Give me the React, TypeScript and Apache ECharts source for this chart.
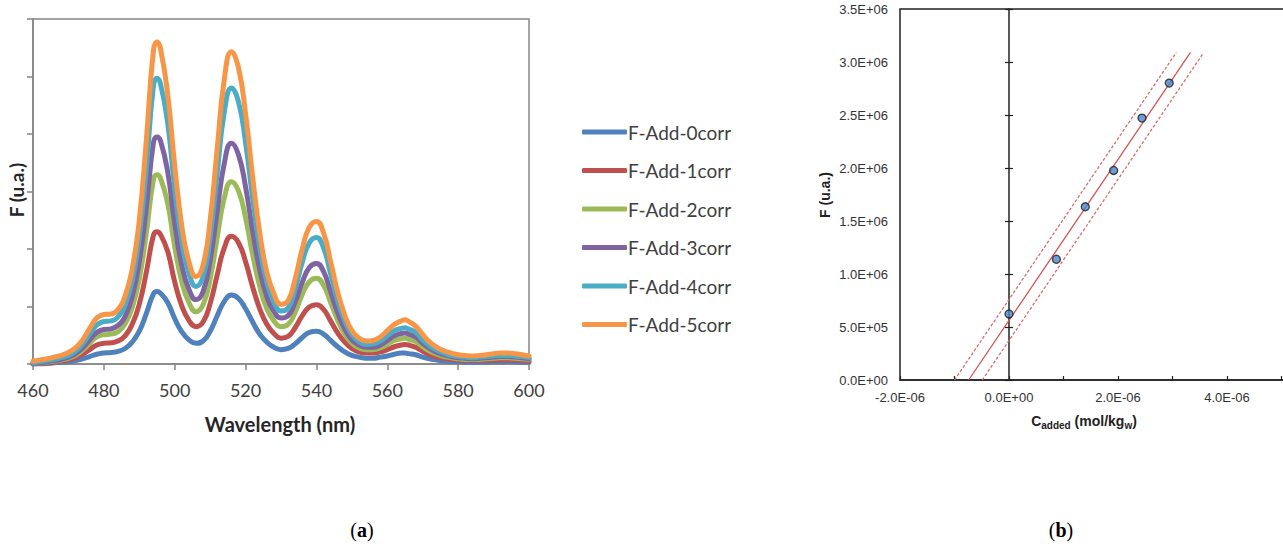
import React, { useEffect, useRef } from "react";
import * as echarts from "echarts";

// ---------- Panel (a): emission spectra ----------
const wavelengths = [460, 462, 464, 466, 468, 470, 472, 474, 476, 478, 480, 482, 484, 486, 488, 490, 492, 494, 495, 496, 498, 500, 502, 504, 506, 508, 510, 512, 514, 516, 518, 520, 522, 524, 526, 528, 530, 532, 534, 536, 538, 540, 542, 544, 546, 548, 550, 552, 554, 556, 558, 560, 562, 564, 565, 566, 568, 570, 572, 574, 576, 578, 580, 582, 584, 586, 588, 590, 592, 594, 596, 598, 600];

const fAdd0 = [0.00, 0.00, 0.01, 0.02, 0.03, 0.04, 0.06, 0.09, 0.13, 0.17, 0.19, 0.20, 0.22, 0.27, 0.38, 0.57, 0.88, 1.22, 1.26, 1.23, 1.07, 0.79, 0.56, 0.42, 0.36, 0.40, 0.57, 0.84, 1.09, 1.20, 1.14, 0.96, 0.73, 0.52, 0.38, 0.29, 0.25, 0.27, 0.35, 0.46, 0.55, 0.57, 0.52, 0.41, 0.30, 0.21, 0.15, 0.12, 0.10, 0.10, 0.12, 0.14, 0.17, 0.19, 0.19, 0.18, 0.16, 0.12, 0.09, 0.07, 0.05, 0.04, 0.04, 0.03, 0.03, 0.03, 0.03, 0.04, 0.04, 0.04, 0.04, 0.03, 0.03];
const fAdd1 = [0.00, 0.01, 0.02, 0.03, 0.05, 0.07, 0.11, 0.17, 0.25, 0.33, 0.36, 0.37, 0.40, 0.49, 0.69, 1.04, 1.60, 2.24, 2.30, 2.25, 1.96, 1.43, 1.01, 0.76, 0.65, 0.73, 1.05, 1.55, 2.02, 2.22, 2.11, 1.78, 1.34, 0.96, 0.69, 0.53, 0.45, 0.48, 0.63, 0.84, 0.99, 1.03, 0.95, 0.75, 0.54, 0.38, 0.27, 0.21, 0.19, 0.19, 0.21, 0.25, 0.30, 0.33, 0.34, 0.33, 0.29, 0.22, 0.16, 0.12, 0.10, 0.08, 0.07, 0.06, 0.06, 0.06, 0.06, 0.07, 0.07, 0.07, 0.07, 0.06, 0.05];
const fAdd2 = [0.01, 0.02, 0.03, 0.05, 0.07, 0.10, 0.15, 0.24, 0.36, 0.47, 0.51, 0.52, 0.56, 0.70, 0.98, 1.48, 2.28, 3.21, 3.29, 3.23, 2.80, 2.04, 1.43, 1.07, 0.91, 1.03, 1.48, 2.20, 2.89, 3.17, 3.01, 2.54, 1.90, 1.35, 0.96, 0.75, 0.65, 0.69, 0.90, 1.21, 1.43, 1.49, 1.37, 1.07, 0.76, 0.52, 0.36, 0.28, 0.25, 0.25, 0.28, 0.34, 0.41, 0.44, 0.45, 0.43, 0.39, 0.30, 0.22, 0.17, 0.13, 0.11, 0.09, 0.08, 0.08, 0.08, 0.09, 0.10, 0.11, 0.11, 0.10, 0.09, 0.08];
const fAdd3 = [0.01, 0.02, 0.04, 0.06, 0.08, 0.12, 0.18, 0.28, 0.42, 0.55, 0.60, 0.61, 0.67, 0.83, 1.17, 1.78, 2.73, 3.85, 3.95, 3.88, 3.35, 2.44, 1.72, 1.30, 1.12, 1.26, 1.80, 2.66, 3.49, 3.84, 3.64, 3.08, 2.31, 1.64, 1.17, 0.91, 0.80, 0.84, 1.08, 1.42, 1.68, 1.75, 1.61, 1.26, 0.89, 0.61, 0.42, 0.33, 0.29, 0.29, 0.33, 0.41, 0.49, 0.53, 0.54, 0.52, 0.47, 0.36, 0.27, 0.20, 0.16, 0.13, 0.11, 0.10, 0.09, 0.10, 0.11, 0.12, 0.13, 0.13, 0.12, 0.11, 0.09];
const fAdd4 = [0.02, 0.04, 0.06, 0.08, 0.11, 0.15, 0.22, 0.35, 0.52, 0.68, 0.74, 0.75, 0.82, 1.03, 1.45, 2.21, 3.41, 4.84, 4.97, 4.87, 4.20, 3.05, 2.13, 1.58, 1.35, 1.52, 2.21, 3.32, 4.38, 4.80, 4.56, 3.85, 2.88, 2.02, 1.42, 1.08, 0.92, 0.97, 1.31, 1.77, 2.11, 2.20, 2.02, 1.57, 1.10, 0.75, 0.51, 0.39, 0.34, 0.35, 0.40, 0.49, 0.58, 0.62, 0.63, 0.61, 0.55, 0.42, 0.31, 0.24, 0.19, 0.15, 0.13, 0.12, 0.11, 0.12, 0.13, 0.14, 0.15, 0.15, 0.14, 0.13, 0.11];
const fAdd5 = [0.05, 0.07, 0.09, 0.12, 0.15, 0.20, 0.28, 0.42, 0.62, 0.80, 0.86, 0.87, 0.95, 1.18, 1.65, 2.50, 3.90, 5.45, 5.60, 5.48, 4.70, 3.45, 2.40, 1.78, 1.52, 1.72, 2.50, 3.75, 4.95, 5.43, 5.15, 4.35, 3.25, 2.28, 1.60, 1.22, 1.04, 1.10, 1.48, 2.00, 2.38, 2.48, 2.28, 1.78, 1.25, 0.85, 0.58, 0.45, 0.40, 0.41, 0.47, 0.58, 0.69, 0.75, 0.77, 0.74, 0.66, 0.51, 0.38, 0.29, 0.23, 0.19, 0.16, 0.15, 0.14, 0.15, 0.16, 0.18, 0.19, 0.19, 0.18, 0.16, 0.14];

const spectraNames = ["F-Add-0corr", "F-Add-1corr", "F-Add-2corr", "F-Add-3corr", "F-Add-4corr", "F-Add-5corr"];
const spectraValues = [fAdd0, fAdd1, fAdd2, fAdd3, fAdd4, fAdd5];
const spectraColors = ["#4F81BD", "#C0504D", "#9BBB59", "#8064A2", "#4BACC6", "#F79646"];

// ---------- Panel (b): standard addition ----------
const cAdded = [0, 0.87e-6, 1.4e-6, 1.92e-6, 2.44e-6, 2.94e-6];
const fMeasured = [6.23e5, 1.139e6, 1.634e6, 1.977e6, 2.471e6, 2.801e6];
const fitLine = [[-0.74e-6, 0], [3.33e-6, 3.09e6]];
const upperBand = [[-1.0e-6, 0], [3.07e-6, 3.09e6]];
const lowerBand = [[-0.49e-6, 0], [3.56e-6, 3.08e6]];

const fmtExp = (v: number) => {
  const s = Number(v).toExponential(1);
  const [m, e] = s.split("e");
  const sign = e[0] === "-" ? "-" : "+";
  const d = e.replace(/[+-]/, "").padStart(2, "0");
  return m + "E" + sign + d;
};

export default function App() {
  const ref = useRef<HTMLDivElement>(null);
  useEffect(() => {
    document.body.style.margin = "0";
    const chart = echarts.init(ref.current!, null, { renderer: "svg" });
    const axisGrey = "#868686";
    const sansA = "Lato";
    const sansB = "Liberation Sans";

    const spectraSeries = spectraNames.map((name, i) => ({
      name,
      type: "line",
      xAxisIndex: 0,
      yAxisIndex: 0,
      data: wavelengths.map((w, j) => [w, spectraValues[i][j]]),
      showSymbol: false,
      smooth: 0.5,
      lineStyle: { width: 5, color: spectraColors[i], cap: "round", join: "round" },
      itemStyle: { color: spectraColors[i] },
      z: 2 + i,
    }));

    const option: any = {
      animation: false,
      textStyle: { fontFamily: sansA },
      grid: [
        { left: 33, top: 19, width: 496, height: 345, show: true, borderColor: axisGrey, borderWidth: 1.5, backgroundColor: "transparent", outerBoundsMode: "none", containLabel: false },
        { left: 900, top: 9, width: 436, height: 371, show: true, borderColor: "#222", borderWidth: 1.5, backgroundColor: "transparent", outerBoundsMode: "none", containLabel: false },
      ],
      xAxis: [
        {
          type: "value", gridIndex: 0, min: 460, max: 600, interval: 20,
          axisLine: { show: true, onZero: false, lineStyle: { color: axisGrey, width: 1.5 } },
          axisTick: { show: true, length: 6, lineStyle: { color: axisGrey, width: 1.5 } },
          axisLabel: { color: "#404040", fontSize: 18, fontFamily: sansA, margin: 17 },
          splitLine: { show: false },
        },
        {
          // ticks every 1E-06 along the bottom edge
          type: "value", gridIndex: 1, min: -2e-6, max: 6e-6, interval: 1e-6,
          axisLine: { show: true, onZero: false, lineStyle: { color: "#222", width: 1.5 } },
          axisTick: { show: true, inside: true, length: 4, lineStyle: { color: "#222", width: 1.2 } },
          axisLabel: { show: false },
          splitLine: { show: false },
        },
        {
          // labels every 2E-06
          type: "value", gridIndex: 1, position: "bottom", min: -2e-6, max: 6e-6, interval: 2e-6,
          axisLine: { show: false, onZero: false },
          axisTick: { show: false },
          axisLabel: { color: "#333", fontSize: 13, fontFamily: sansB, margin: 11, showMaxLabel: false, formatter: (v: number) => fmtExp(v) },
          splitLine: { show: false },
        },
      ],
      yAxis: [
        {
          type: "value", gridIndex: 0, min: 0, max: 6, interval: 1,
          axisLine: { show: true, onZero: false, lineStyle: { color: axisGrey, width: 1.5 } },
          axisTick: { show: true, length: 6, lineStyle: { color: axisGrey, width: 1.5 } },
          axisLabel: { show: false },
          splitLine: { show: false },
        },
        {
          type: "value", gridIndex: 1, min: 0, max: 3.5e6, interval: 5e5,
          axisLine: { show: false, onZero: false },
          axisTick: { show: false },
          axisLabel: { color: "#333", fontSize: 13, fontFamily: sansB, margin: 12, formatter: (v: number) => fmtExp(v) },
          splitLine: { show: false },
        },
        {
          type: "value", gridIndex: 1, min: 0, max: 3.5e6, interval: 5e5,
          axisLine: { show: true, onZero: true, onZeroAxisIndex: 1, lineStyle: { color: "#222", width: 1.5 } },
          axisTick: { show: true, inside: false, length: 4, lineStyle: { color: "#222", width: 1.2 } },
          axisLabel: { show: false },
          splitLine: { show: false },
        },
        {
          type: "value", gridIndex: 1, min: 0, max: 3.5e6, interval: 5e5,
          axisLine: { show: false, onZero: true, onZeroAxisIndex: 1 },
          axisTick: { show: true, inside: true, length: 4, lineStyle: { color: "#222", width: 1.2 } },
          axisLabel: { show: false },
          splitLine: { show: false },
        },
      ],
      legend: {
        data: spectraNames,
        orient: "vertical",
        left: 577,
        top: 117,
        icon: "roundRect",
        itemWidth: 45,
        itemHeight: 5,
        itemGap: 18.5,
        textStyle: { color: "#404040", fontSize: 19, fontFamily: sansA, lineHeight: 20, padding: [0, 0, 0, -4] },
        selectedMode: false,
      },
      series: [
        ...spectraSeries,
        {
          type: "line", xAxisIndex: 1, yAxisIndex: 1, data: upperBand, showSymbol: false,
          lineStyle: { color: "#e06a66", width: 1.3, type: [3, 2] }, z: 3,
        },
        {
          type: "line", xAxisIndex: 1, yAxisIndex: 1, data: lowerBand, showSymbol: false,
          lineStyle: { color: "#e06a66", width: 1.3, type: [3, 2] }, z: 3,
        },
        {
          type: "line", xAxisIndex: 1, yAxisIndex: 1, data: fitLine, showSymbol: false,
          lineStyle: { color: "#d9534f", width: 1.3 }, z: 3,
        },
        {
          type: "scatter", xAxisIndex: 1, yAxisIndex: 1,
          data: cAdded.map((c, i) => [c, fMeasured[i]]),
          symbolSize: 8,
          itemStyle: { color: "#4a86c8", borderColor: "#1a1a1a", borderWidth: 1.3 },
          z: 5,
        },
      ],
      graphic: [
        {
          type: "text", x: 16, y: 190, rotation: Math.PI / 2,
          style: { text: "F (u.a.)", fill: "#262626", font: `bold 19px ${sansA}`, align: "center", verticalAlign: "middle" },
        },
        {
          type: "text", x: 280, y: 424,
          style: { text: "Wavelength (nm)", fill: "#262626", font: `bold 20px ${sansA}`, align: "center", verticalAlign: "middle" },
        },
        {
          type: "text", x: 825, y: 195, rotation: Math.PI / 2,
          style: { text: "F (u.a.)", fill: "#222", font: `bold 14px ${sansB}`, align: "center", verticalAlign: "middle" },
        },
        {
          type: "text", x: 1084, y: 421,
          style: {
            text: "{b|C}{s|added}{b| (mol/kg}{s|w}{b|)}",
            align: "center", verticalAlign: "middle",
            rich: {
              b: { fontFamily: sansB, fontWeight: "bold", fontSize: 14, fill: "#222", lineHeight: 18, verticalAlign: "middle" },
              s: { fontFamily: sansB, fontWeight: "bold", fontSize: 10, fill: "#222", lineHeight: 18, verticalAlign: "bottom", padding: [6, 0, 0, 0] },
            },
          },
        },
        {
          type: "text", x: 362, y: 530,
          style: {
            text: "{r|(}{bb|a}{r|)}", align: "center", verticalAlign: "middle",
            rich: {
              r: { fontFamily: "Liberation Serif", fontSize: 20, fill: "#000" },
              bb: { fontFamily: "Liberation Serif", fontSize: 20, fontWeight: "bold", fill: "#000" },
            },
          },
        },
        {
          type: "text", x: 1061, y: 530,
          style: {
            text: "{r|(}{bb|b}{r|)}", align: "center", verticalAlign: "middle",
            rich: {
              r: { fontFamily: "Liberation Serif", fontSize: 20, fill: "#000" },
              bb: { fontFamily: "Liberation Serif", fontSize: 20, fontWeight: "bold", fill: "#000" },
            },
          },
        },
      ],
    };
    chart.setOption(option);
    return () => chart.dispose();
  }, []);
  return <div ref={ref} style={{ width: 1283, height: 550 }} />;
}
